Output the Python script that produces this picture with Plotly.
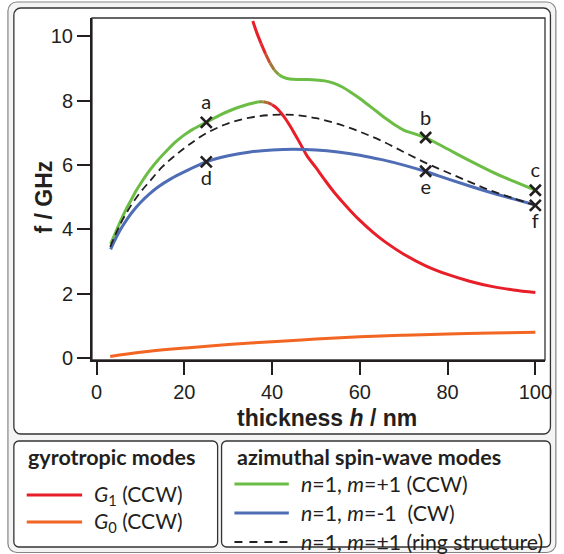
import plotly.graph_objects as go

# ---------------- data ----------------
# upper hybrid branch: G1 (red) at small h -> n=1,m=+1 (green) at large h
upper_h = [35.6, 36.5, 37.5, 38.5, 39.5, 40.5, 41.5, 42.5, 44, 46, 48, 50, 52, 54, 56, 58,
           60, 62, 64, 66, 68, 70, 72.5, 75, 77.5, 80, 85, 90, 95, 100]
upper_f = [10.48, 10.12, 9.78, 9.46, 9.18, 8.96, 8.82, 8.74, 8.68, 8.66, 8.66, 8.65, 8.62, 8.55,
           8.43, 8.26, 8.07, 7.86, 7.65, 7.44, 7.25, 7.09, 6.97, 6.85, 6.68, 6.50, 6.14, 5.80, 5.50, 5.22]
# lower hybrid branch: n=1,m=+1 (green) at small h -> G1 (red) at large h
lower_h = [3.2, 4, 5, 6, 7, 8, 9, 10, 12, 14, 16, 18, 20, 22, 25, 28, 31, 34, 36, 37, 38, 39, 40,
           41, 42, 43, 44, 45, 46, 47, 48, 50, 52, 54, 56, 58, 60, 63, 66, 70, 75, 80, 85, 90, 95, 100]
lower_f = [3.55, 3.80, 4.12, 4.42, 4.70, 4.95, 5.20, 5.42, 5.82, 6.16, 6.45, 6.72, 6.94, 7.12, 7.33,
           7.55, 7.73, 7.87, 7.94, 7.97, 7.97, 7.94, 7.88, 7.78, 7.63, 7.45, 7.24, 7.01, 6.77, 6.52,
           6.28, 5.92, 5.54, 5.18, 4.86, 4.56, 4.28, 3.91, 3.59, 3.23, 2.87, 2.60, 2.39, 2.23, 2.12, 2.04]
upper_mix = (37.8, 41.8)   # red -> green
lower_mix = (36.5, 40.5)   # green -> red

# n=1, m=-1 (CW)
cw_h = [3.2, 4, 5, 6, 7, 8, 10, 12, 14, 17, 20, 25, 30, 35, 40, 45, 50, 55, 60, 65, 70, 75, 80, 85, 90, 95, 100]
cw_f = [3.38, 3.62, 3.89, 4.12, 4.33, 4.52, 4.84, 5.10, 5.32, 5.58, 5.79, 6.10, 6.29, 6.41, 6.47, 6.49,
        6.47, 6.41, 6.31, 6.17, 6.00, 5.80, 5.57, 5.35, 5.14, 4.95, 4.76]
# n=1, m=+-1 (ring structure)
ring_h = [3.1, 4, 5, 6, 8, 10, 12, 15, 18, 21, 25, 30, 35, 40, 45, 50, 55, 60, 65, 70, 75, 80, 85, 90, 95, 100]
ring_f = [3.46, 3.75, 4.05, 4.32, 4.78, 5.16, 5.48, 5.95, 6.31, 6.63, 6.99, 7.30, 7.48, 7.56, 7.56, 7.46,
          7.28, 7.04, 6.75, 6.41, 6.07, 5.77, 5.48, 5.20, 4.97, 4.75]
# G0 (CCW)
g0_h = [3.1, 10, 20, 30, 40, 50, 60, 70, 80, 90, 100]
g0_f = [0.05, 0.18, 0.31, 0.42, 0.51, 0.59, 0.66, 0.71, 0.75, 0.78, 0.80]

# marked points
pt_h = [25, 75, 100, 25, 75, 100]
pt_f = [7.33, 6.86, 5.22, 6.10, 5.81, 4.75]
pt_lbl = ["a", "b", "c", "d", "e", "f"]
pt_pos = ["top center", "top center", "top center", "bottom center", "bottom center", "bottom center"]

x_ticks = [0, 20, 40, 60, 80, 100]
y_ticks = [0, 2, 4, 6, 8, 10]

# ---------------- style ----------------
RED = (232, 30, 40)
GREEN = (108, 189, 69)
BLUE = (79, 109, 181)
ORANGE = (242, 101, 34)
INK = "#231f20"
AX_FONT = "Liberation Sans, Arial, sans-serif"
LG_FONT = "Lato, Carlito, sans-serif"
LW = 3


def rgb(c):
    return "rgb(%d,%d,%d)" % c


def mix(h, rng, c0, c1):
    t = (h - rng[0]) / (rng[1] - rng[0])
    t = max(0.0, min(1.0, t))
    return tuple(round(c0[i] + (c1[i] - c0[i]) * t) for i in range(3))


fig = go.Figure()


def add_gradient_branch(hs, fs, rng, c0, c1):
    groups = []
    for i in range(len(hs) - 1):
        col = rgb(mix(0.5 * (hs[i] + hs[i + 1]), rng, c0, c1))
        if groups and groups[-1][0] == col:
            groups[-1][1].append(i + 1)
        else:
            groups.append([col, [i, i + 1]])
    for col, idx in groups:
        fig.add_trace(go.Scatter(
            x=[hs[j] for j in idx], y=[fs[j] for j in idx], mode="lines",
            line=dict(color=col, width=LW, shape="spline" if len(idx) > 2 else "linear"),
            showlegend=False, hoverinfo="skip"))


add_gradient_branch(lower_h, lower_f, lower_mix, GREEN, RED)
add_gradient_branch(upper_h, upper_f, upper_mix, RED, GREEN)

fig.add_trace(go.Scatter(x=cw_h, y=cw_f, mode="lines", line=dict(color=rgb(BLUE), width=LW, shape="spline"),
                         showlegend=False))
fig.add_trace(go.Scatter(x=g0_h, y=g0_f, mode="lines", line=dict(color=rgb(ORANGE), width=LW, shape="spline"),
                         showlegend=False))
fig.add_trace(go.Scatter(x=ring_h, y=ring_f, mode="lines",
                         line=dict(color=INK, width=1.8, dash="8px,5px", shape="spline"), showlegend=False))
fig.add_trace(go.Scatter(x=pt_h, y=pt_f, mode="markers+text", text=pt_lbl, textposition=pt_pos,
                         textfont=dict(family=LG_FONT, size=20, color=INK),
                         marker=dict(symbol="x-thin", size=11, line=dict(width=2.6, color=INK)),
                         showlegend=False))

# ---------------- geometry helpers (pixel -> paper) ----------------
W, H = 564, 554
PL, PR, PT, PB = 92, 550, 18, 360


def px(x):
    return (x - PL) / (PR - PL)


def py(y):
    return (PB - y) / (PB - PT)


def rrect(x0, y0, x1, y1, r):
    k = 0.45
    pts = [
        f"M{px(x0 + r)},{py(y0)}", f"L{px(x1 - r)},{py(y0)}",
        f"C{px(x1 - r * k)},{py(y0)} {px(x1)},{py(y0 + r * k)} {px(x1)},{py(y0 + r)}",
        f"L{px(x1)},{py(y1 - r)}",
        f"C{px(x1)},{py(y1 - r * k)} {px(x1 - r * k)},{py(y1)} {px(x1 - r)},{py(y1)}",
        f"L{px(x0 + r)},{py(y1)}",
        f"C{px(x0 + r * k)},{py(y1)} {px(x0)},{py(y1 - r * k)} {px(x0)},{py(y1 - r)}",
        f"L{px(x0)},{py(y0 + r)}",
        f"C{px(x0)},{py(y0 + r * k)} {px(x0 + r * k)},{py(y0)} {px(x0 + r)},{py(y0)}", "Z"]
    return " ".join(pts)


shapes = [
    dict(type="path", path=rrect(7, 2, 561, 552.5, 9), line=dict(color="#858585", width=1.2), fillcolor="#f4f4f4"),
    dict(type="path", path=rrect(13, 8, 555.5, 434, 7), line=dict(color="#333333", width=1.3), fillcolor="white"),
    dict(type="path", path=rrect(13, 441, 219, 547, 5), line=dict(color="#333333", width=1.3), fillcolor="white"),
    dict(type="path", path=rrect(223, 441, 555.5, 547, 5), line=dict(color="#333333", width=1.3), fillcolor="white"),
    dict(type="rect", x0=0, x1=1, y0=0, y1=1, line=dict(color="#333333", width=1.3)),
]
for s in shapes:
    s.update(xref="paper", yref="paper", layer="below")

# legend samples
leg_lines = [
    (26, 82, 495, rgb(RED), "solid"),
    (26, 82, 522, rgb(ORANGE), "solid"),
    (236, 291, 484, rgb(GREEN), "solid"),
    (236, 291, 513, rgb(BLUE), "solid"),
    (236, 291, 542, INK, "8px,7px"),
]
for x0, x1, y, c, d in leg_lines:
    shapes.append(dict(type="line", xref="paper", yref="paper", x0=px(x0), x1=px(x1), y0=py(y), y1=py(y),
                       line=dict(color=c, width=3 if d == "solid" else 1.8, dash=d)))

ann = []


def text(x, y, s, size, bold=False, anchor="left", font=LG_FONT, angle=0):
    ann.append(dict(xref="paper", yref="paper", x=px(x), y=py(y), text=s, showarrow=False,
                    xanchor=anchor, yanchor="middle", textangle=angle,
                    font=dict(family=font, size=size, color=INK, weight="bold" if bold else "normal")))


text(25, 457, "gyrotropic modes", 21.5, bold=True)
text(92, 495, "<i>G</i><sub>1</sub> (CCW)", 21)
text(92, 522, "<i>G</i><sub>0</sub> (CCW)", 21)
text(237, 457, "azimuthal spin-wave modes", 21.5, bold=True)
text(301, 484, "<i>n</i>=1, <i>m</i>=+1 (CCW)", 21.3)
text(301, 513, "<i>n</i>=1, <i>m</i>=-1&nbsp;&nbsp;(CW)", 21.3)
text(301, 542, "<i>n</i>=1, <i>m</i>=±1 (ring structure)", 21.3)
text(330, 418, "<b>thickness <i>h</i> / nm</b>", 23, anchor="center", font=AX_FONT)
text(43, 197, "<b>f / GHz</b>", 23, anchor="center", font=AX_FONT, angle=-90)

axis_common = dict(showline=True, linewidth=2, linecolor=INK, ticks="outside", ticklen=13, tickwidth=2,
                   tickcolor=INK, showgrid=False, zeroline=False,
                   tickfont=dict(family=AX_FONT, size=20, color=INK))

fig.update_layout(
    width=W, height=H, margin=dict(l=PL, r=W - PR, t=PT, b=H - PB),
    paper_bgcolor="white", plot_bgcolor="rgba(0,0,0,0)",
    xaxis=dict(range=[-1.05, 102.2], tickvals=x_ticks, **axis_common),
    yaxis=dict(range=[-0.06, 10.575], tickvals=y_ticks, **axis_common),
    shapes=shapes, annotations=ann, showlegend=False,
)

fig.write_html("out.html", config={"displayModeBar": False},
               post_script="document.body.style.margin='0';document.body.style.overflow='hidden';")
